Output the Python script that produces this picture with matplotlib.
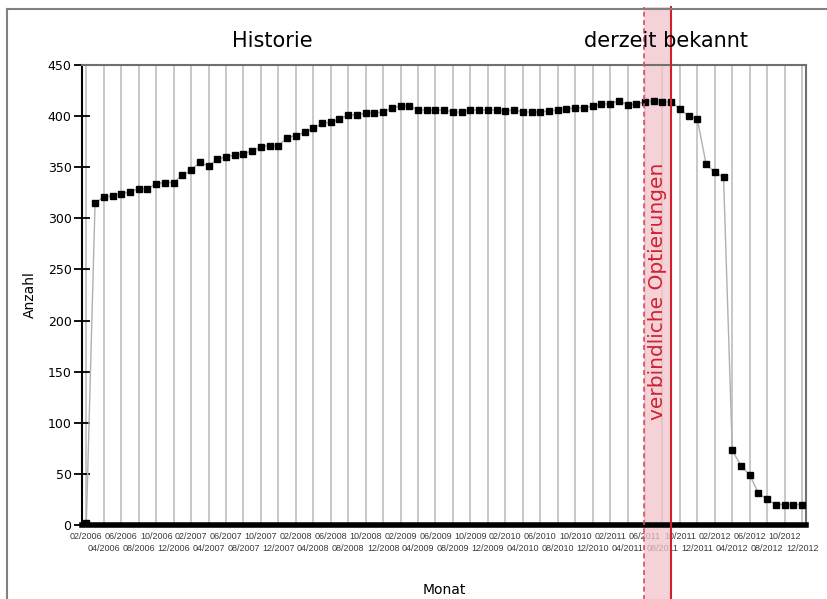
import matplotlib
matplotlib.use("Agg")
import matplotlib.pyplot as plt
from matplotlib.lines import Line2D

# monthly counts, 02/2006 .. 12/2012
anzahl = [2, 315, 321, 322, 324, 326, 329, 329, 334, 335,
          335, 342, 347, 355, 351, 358, 360, 362, 363, 366,
          370, 371, 371, 379, 381, 384, 388, 393, 394, 397,
          401, 401, 403, 403, 404, 408, 410, 410, 406, 406,
          406, 406, 404, 404, 406, 406, 406, 406, 405, 406,
          404, 404, 404, 405, 406, 407, 408, 408, 410, 412,
          412, 415, 411, 412, 414, 415, 414, 414, 407, 400,
          397, 353, 345, 340, 73, 58, 49, 31, 25, 20,
          20, 20, 20]
monate = [f"{(m % 12) + 1:02d}/{2006 + m // 12}" for m in range(1, 84)]
optierung_start = 63.85
optierung_ende = 67.0

x = list(range(len(anzahl)))

fig = plt.figure(figsize=(8.28, 5.99), dpi=100)
ax = fig.add_axes([0.099, 0.1235, 0.875, 0.768])

# grid lines every two months
for i in range(0, len(x), 2):
    ax.axvline(i, color="#c4c4c4", lw=1.3, zorder=1)

ax.plot(x, anzahl, color="#b0b0b0", lw=1, zorder=3)
ax.plot(x, anzahl, ls="none", marker="s", ms=4.7, color="black", zorder=4)

ax.set_xlim(-0.5, 82.5)
ax.set_ylim(0, 450)
ax.set_yticks(range(0, 451, 50))
ax.tick_params(axis="y", direction="inout", length=11, width=1.3, pad=2, labelsize=9)

# month labels in two staggered rows
ax.set_xticks(x[::4])
ax.set_xticklabels(monate[::4])
ax.set_xticks(x[2::4], minor=True)
ax.set_xticklabels(monate[2::4], minor=True)
ax.tick_params(axis="x", which="major", length=0, pad=5, labelsize=6.5,
               labelcolor="#3a3a3a")
ax.tick_params(axis="x", which="minor", length=0, pad=13.5, labelsize=6.5,
               labelcolor="#3a3a3a")
for lab in ax.get_xticklabels(which="both"):
    lab.set_family("Liberation Sans")

ax.spines["bottom"].set_linewidth(4)
ax.spines["bottom"].set_color("black")
ax.spines["left"].set_linewidth(1.5)
ax.spines["top"].set_color("#707070")
ax.spines["right"].set_color("#707070")
ax.spines["top"].set_linewidth(1.5)
ax.spines["right"].set_linewidth(1.5)

ax.set_ylabel("Anzahl", fontsize=10, labelpad=8)
ax.set_xlabel("Monat", fontsize=10, labelpad=22)

# binding options band
ax.axvspan(optierung_start, optierung_ende, ymin=-0.17, ymax=1.125, color="#f2c4cc",
           alpha=0.75, lw=0, zorder=2, clip_on=False)
ax.axvline(optierung_start, ymin=-0.17, ymax=1.125, color="#e04a5c", lw=1.2,
           ls=(0, (3, 2)), zorder=5, clip_on=False)
ax.axvline(optierung_ende, ymin=-0.17, ymax=1.125, color="#d0202e", lw=1.5,
           zorder=5, clip_on=False)
ax.text((optierung_start + optierung_ende) / 2, 229, "verbindliche Optierungen",
        rotation=90, ha="center", va="center", fontsize=14.5, color="#d0202e", zorder=6)

fig.text(0.329, 0.931, "Historie", ha="center", va="center", fontsize=15)
fig.text(0.804, 0.931, "derzeit bekannt", ha="center", va="center", fontsize=15)

# outer frame
fig.add_artist(Line2D([0.0085, 1.0], [0.985, 0.985], color="#808080", lw=1.5))
fig.add_artist(Line2D([0.0085, 0.0085], [0.0, 0.985], color="#808080", lw=1.5))

fig.savefig("out.png", dpi=100)
